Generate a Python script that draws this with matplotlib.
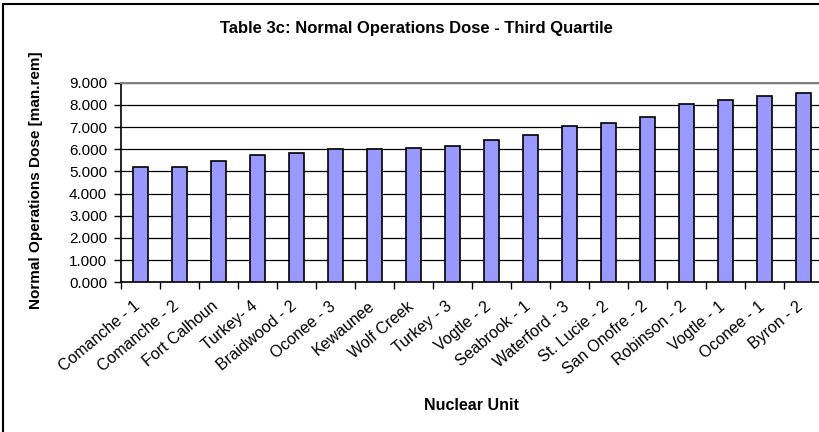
import matplotlib.pyplot as plt
import matplotlib.transforms as mtransforms
from matplotlib.patches import Rectangle

units = ["Comanche - 1", "Comanche - 2", "Fort Calhoun", "Turkey- 4", "Braidwood - 2",
         "Oconee - 3", "Kewaunee", "Wolf Creek", "Turkey - 3", "Vogtle - 2",
         "Seabrook - 1", "Waterford - 3", "St. Lucie - 2", "San Onofre - 2",
         "Robinson - 2", "Vogtle - 1", "Oconee - 1", "Byron - 2"]
dose = [5.21, 5.21, 5.48, 5.75, 5.82, 6.01, 6.01, 6.07, 6.13, 6.40,
        6.65, 7.05, 7.18, 7.44, 8.02, 8.22, 8.41, 8.55]
yticks = [0, 1, 2, 3, 4, 5, 6, 7, 8, 9]

plt.rcParams['font.family'] = ['Liberation Sans', 'DejaVu Sans']

fig = plt.figure(figsize=(8.2, 4.32), dpi=100)
ax = fig.add_axes([121 / 820, 1 - 282.3 / 432, 702 / 820, 199.6 / 432])

x = list(range(len(units)))
ax.bar(x, dose, width=0.4, color="#9999ff", edgecolor="black", linewidth=1.2, zorder=3)

ax.set_xlim(-0.5, len(units) - 0.5)
ax.set_ylim(0, 9)
ax.set_yticks(yticks)
ax.set_yticklabels(["%.3f" % v for v in yticks], fontsize=11)
ax.grid(axis="y", color="black", linewidth=0.9, zorder=0)

# ticks between categories, labels at centres
ax.set_xticks(x)
ax.set_xticks([i - 0.5 for i in range(len(units) + 1)], minor=True)
ax.tick_params(axis="x", which="major", length=0, pad=6)
ax.tick_params(axis="x", which="minor", length=5, width=1, direction="out")
ax.tick_params(axis="y", length=5, width=1, direction="out", pad=5)
labels = ax.set_xticklabels(units, rotation=40, ha="right", rotation_mode="anchor", fontsize=11.5)
offset = mtransforms.ScaledTranslation(-7 / 100, -8 / 100, fig.dpi_scale_trans)
for lab in labels:
    lab.set_transform(lab.get_transform() + offset)

for side in ["left", "bottom"]:
    ax.spines[side].set_color("black")
    ax.spines[side].set_linewidth(1.2)
ax.spines["top"].set_color("#808080")
ax.spines["top"].set_linewidth(1.5)
ax.spines["right"].set_visible(False)

fig.text(416 / 820, 1 - 29 / 432, "Table 3c: Normal Operations Dose - Third Quartile",
         ha="center", va="center", fontsize=12, fontweight="bold")
fig.text(36 / 820, 1 - 180 / 432, "Normal Operations Dose [man.rem]",
         ha="center", va="center", rotation=90, fontsize=11, fontweight="bold")
fig.text(471 / 820, 1 - 405 / 432, "Nuclear Unit",
         ha="center", va="center", fontsize=11.5, fontweight="bold")

# chart border
fig.patches.append(Rectangle((3 / 820, -0.02), 1.0, 1 - 4 / 432 + 0.02,
                             transform=fig.transFigure, fill=False,
                             edgecolor="black", linewidth=1.5))

plt.savefig("out.png", dpi=100)
